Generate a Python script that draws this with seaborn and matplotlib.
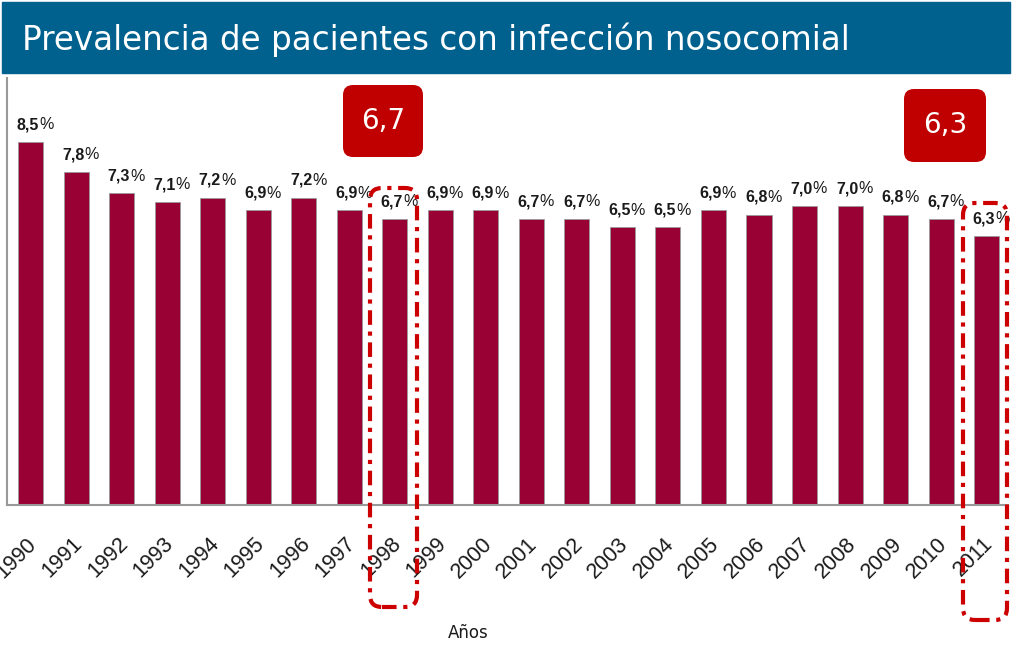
import numpy as np
import pandas as pd
import matplotlib
matplotlib.use("Agg")
import matplotlib.pyplot as plt
import seaborn as sns
from matplotlib.patches import FancyBboxPatch, Rectangle
from matplotlib.transforms import ScaledTranslation

years = [str(y) for y in range(1990, 2012)]
prevalence = [8.5, 7.8, 7.3, 7.1, 7.2, 6.9, 7.2, 6.9, 6.7, 6.9, 6.9,
              6.7, 6.7, 6.5, 6.5, 6.9, 6.8, 7.0, 7.0, 6.8, 6.7, 6.3]
title = "Prevalencia de pacientes con infección nosocomial"
xlabel = "Años"
callouts = ["6,7", "6,3"]

sns.set_style("white")
plt.rcParams["font.family"] = ["Liberation Sans", "DejaVu Sans"]

W, H = 1014, 646
fig = plt.figure(figsize=(W / 100, H / 100), dpi=100)
ax = fig.add_axes([7 / W, 1 - 505 / H, (1008 - 7) / W, (505 - 78) / H])

df = pd.DataFrame({"year": years, "value": prevalence})
sns.barplot(data=df, x="year", y="value", color="#990033", width=0.55,
            edgecolor="#9a9a9a", linewidth=0.6, saturation=1, ax=ax)

ax.set_ylim(0, 10)
ax.set_xlim(-0.52, 21.47)
ax.set_yticks([])
ax.set_ylabel("")
ax.set_xlabel("")
for s in ["top", "right"]:
    ax.spines[s].set_visible(False)
for s in ["left", "bottom"]:
    ax.spines[s].set_color("#999999")
    ax.spines[s].set_linewidth(1.5)
ax.tick_params(axis="x", length=0)

# rotated year labels
ax.set_xticks(range(len(years)))
ax.set_xticklabels(years, rotation=45, ha="right", va="center",
                   rotation_mode="anchor", fontsize=15.5, color="#1a1a1a")
off = ScaledTranslation(3 / 100, -31 / 100, fig.dpi_scale_trans)
for lab in ax.get_xticklabels():
    lab.set_transform(lab.get_transform() + off)

# value labels: bold number + regular percent sign
for i, v in enumerate(prevalence):
    num = f"{v:.1f}".replace(".", ",")
    ax.annotate(num, (i, v), xytext=(6, 7), textcoords="offset points",
                ha="right", va="bottom", fontsize=11.5, fontweight="bold",
                color="#1a1a1a")
    ax.annotate("%", (i, v), xytext=(6, 7), textcoords="offset points",
                ha="left", va="bottom", fontsize=11.5, color="#1a1a1a")

fig.text(468 / W, 1 - 633 / H, xlabel, ha="center", va="center",
         fontsize=12, family="DejaVu Sans", color="#1a1a1a")

# title band
fig.patches.append(Rectangle((2 / W, 1 - 73 / H), 1008 / W, 71 / H,
                             transform=fig.transFigure, color="#00608E",
                             zorder=0))
fig.text(22 / W, 1 - 40 / H, title, ha="left", va="center", fontsize=23.5,
         color="white", family="DejaVu Sans")

# red callout boxes
px = fig.dpi_scale_trans
for (x0, y0, x1, y1), txt in zip([(343, 85, 423, 157), (904, 89, 986, 162)],
                                 callouts):
    box = FancyBboxPatch((x0 / 100, (H - y1) / 100), (x1 - x0) / 100,
                         (y1 - y0) / 100,
                         boxstyle="round,pad=0,rounding_size=0.1",
                         transform=px, facecolor="#C00000",
                         edgecolor="none")
    fig.patches.append(box)
    fig.text((x0 + x1) / 2 / W, 1 - (y0 + y1) / 2 / H, txt, ha="center",
             va="center", fontsize=20, color="white", family="DejaVu Sans")

# dash-dot highlight frames
for x0, y0, x1, y1 in [(370, 188, 417, 607), (963, 203, 1007, 620)]:
    frame = FancyBboxPatch((x0 / 100, (H - y1) / 100), (x1 - x0) / 100,
                           (y1 - y0) / 100,
                           boxstyle="round,pad=0,rounding_size=0.12",
                           transform=px, facecolor="none",
                           edgecolor="#CC0000", linewidth=3,
                           linestyle=(0, (3.5, 1.6, 1, 1.6)), zorder=5)
    fig.patches.append(frame)

fig.savefig("out.png", dpi=100)
